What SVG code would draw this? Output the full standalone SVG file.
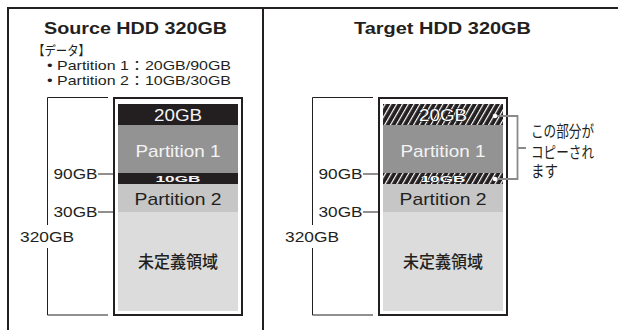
<svg xmlns="http://www.w3.org/2000/svg" width="618" height="330" viewBox="0 0 618 330">
<defs>
<style>
text{font-family:"Liberation Sans","Noto Sans CJK JP",sans-serif;fill:#231f20}
.title{font-size:16px;font-weight:bold}
.note{font-size:13px}
.jp{font-size:16px}
.lbl{font-size:14px}
.w{fill:#f4f4f4}
.big{font-size:17px}
.ol{fill:#fff;stroke:#231f20;stroke-width:1.2px;paint-order:stroke}
.frame{stroke:#231f20;stroke-width:2;fill:none}
.thin{stroke:#231f20;stroke-width:1;fill:none}
.box{stroke:#231f20;stroke-width:2;fill:#fff}
.gray{stroke:#8a8a8a;stroke-width:1.8;fill:none}
</style>
<pattern id="hatch" width="5" height="5" patternUnits="userSpaceOnUse" patternTransform="rotate(30)">
<rect width="5" height="5" fill="#231f20"/>
<rect width="1.2" height="5" fill="#fff"/>
</pattern>
</defs>
<rect width="618" height="330" fill="#fff"/>
<g id="frame">
<path class="frame" d="M8,330 V8 H618 M263,8 V330"/>
</g>
<g id="source-title">
<text class="title" x="135.5" y="34.3" text-anchor="middle" textLength="183" lengthAdjust="spacingAndGlyphs">Source HDD 320GB</text>
</g>
<g id="source-data">
<text x="33" y="55" font-size="13" textLength="57" lengthAdjust="spacingAndGlyphs">【データ】</text>
<text class="note" x="47" y="70" textLength="184" lengthAdjust="spacingAndGlyphs">• Partition 1：20GB/90GB</text>
<text class="note" x="47" y="85" textLength="184" lengthAdjust="spacingAndGlyphs">• Partition 2：10GB/30GB</text>
</g>
<g id="target-title">
<text class="title" x="442.5" y="34.3" text-anchor="middle" textLength="177" lengthAdjust="spacingAndGlyphs">Target HDD 320GB</text>
</g>
<g id="source-disk">
<rect class="box" x="114" y="98" width="128" height="217"/>
<rect x="118" y="104" width="120" height="21" fill="#231f20"/>
<rect x="118" y="125" width="120" height="48" fill="#939393"/>
<rect x="118" y="173" width="120" height="11" fill="#231f20"/>
<rect x="118" y="184" width="120" height="28" fill="#c6c6c6"/>
<rect x="118" y="212" width="120" height="99" fill="#dcdcdc"/>
<text x="178" y="120.7" text-anchor="middle" font-size="16" class="w" textLength="48" lengthAdjust="spacingAndGlyphs">20GB</text>
<text x="178" y="156.5" text-anchor="middle" class="big w" textLength="85" lengthAdjust="spacingAndGlyphs">Partition 1</text>
<text x="178" y="182.3" text-anchor="middle" font-size="8.5" font-weight="bold" class="w" textLength="45" lengthAdjust="spacingAndGlyphs">10GB</text>
<text x="178" y="205" text-anchor="middle" class="big" textLength="87" lengthAdjust="spacingAndGlyphs">Partition 2</text>
<text x="178" y="268" text-anchor="middle" font-size="16.5" font-weight="500" textLength="80" lengthAdjust="spacingAndGlyphs">未定義領域</text>
</g>
<g id="source-scale">
<text class="lbl" x="97.5" y="179" text-anchor="end" textLength="44" lengthAdjust="spacingAndGlyphs">90GB</text>
<text class="lbl" x="97.5" y="216.7" text-anchor="end" textLength="44" lengthAdjust="spacingAndGlyphs">30GB</text>
<text class="lbl" x="20" y="241.7" textLength="54" lengthAdjust="spacingAndGlyphs">320GB</text>
</g>
<g id="target-disk">
<rect class="box" x="379" y="98" width="128" height="217"/>
<rect x="383" y="104" width="120" height="21" fill="url(#hatch)"/>
<rect x="383" y="125" width="120" height="48" fill="#939393"/>
<rect x="383" y="173" width="120" height="11" fill="url(#hatch)"/>
<rect x="383" y="184" width="120" height="28" fill="#c6c6c6"/>
<rect x="383" y="212" width="120" height="99" fill="#dcdcdc"/>
<text x="443" y="120.7" text-anchor="middle" font-size="16" class="ol" textLength="48" lengthAdjust="spacingAndGlyphs">20GB</text>
<text x="443" y="156.5" text-anchor="middle" class="big w" textLength="85" lengthAdjust="spacingAndGlyphs">Partition 1</text>
<text x="443" y="182.3" text-anchor="middle" font-size="8.5" font-weight="bold" class="ol" style="stroke-width:0.8px" textLength="45" lengthAdjust="spacingAndGlyphs">10GB</text>
<text x="443" y="205" text-anchor="middle" class="big" textLength="87" lengthAdjust="spacingAndGlyphs">Partition 2</text>
<text x="443" y="268" text-anchor="middle" font-size="16.5" font-weight="500" textLength="80" lengthAdjust="spacingAndGlyphs">未定義領域</text>
</g>
<g id="target-scale">
<text class="lbl" x="362.5" y="179" text-anchor="end" textLength="44" lengthAdjust="spacingAndGlyphs">90GB</text>
<text class="lbl" x="362.5" y="216.7" text-anchor="end" textLength="44" lengthAdjust="spacingAndGlyphs">30GB</text>
<text class="lbl" x="285" y="241.7" textLength="54" lengthAdjust="spacingAndGlyphs">320GB</text>
</g>
<g id="copy-note">
<text class="jp" x="531" y="136.5" textLength="63" lengthAdjust="spacingAndGlyphs">この部分が</text>
<text class="jp" x="531" y="158" textLength="63" lengthAdjust="spacingAndGlyphs">コピーされ</text>
<text class="jp" x="531" y="176.5" textLength="27" lengthAdjust="spacingAndGlyphs">ます</text>
</g>
<g id="connectors">
<path class="thin" d="M108,97.5 H47.5 V225 M47.5,248 V315 H108"/>
<path class="thin" d="M98,174 H114 M98,212 H114"/>
<path class="thin" d="M373,97.5 H312.5 V225 M312.5,248 V315 H373"/>
<path class="thin" d="M363,174 H379 M363,212 H379"/>
<path class="gray" d="M496,116 H517.5 V179 H496 M517.5,148 H526"/>
<circle cx="495" cy="116" r="2.3" fill="#fff"/>
<circle cx="495" cy="179" r="2.3" fill="#fff"/>
</g>
</svg>
